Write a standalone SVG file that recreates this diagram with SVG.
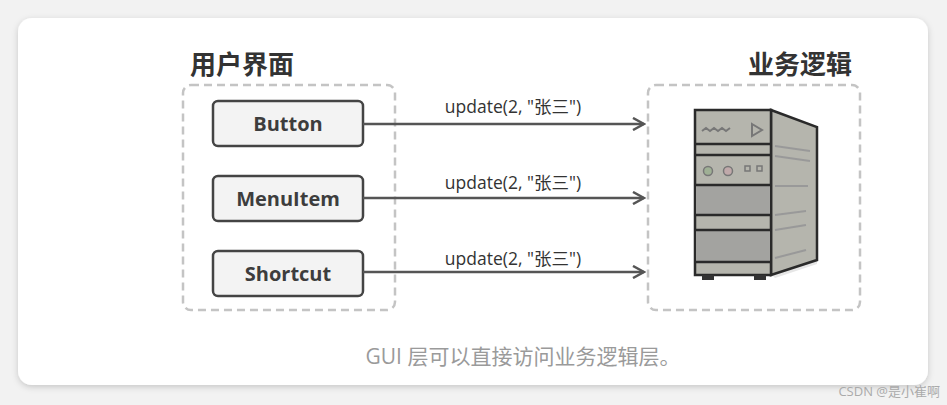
<svg xmlns="http://www.w3.org/2000/svg" width="947" height="405" viewBox="0 0 947 405">
<style>
.t{font-family:"Open Sans","Noto Sans","Noto Sans CJK SC",sans-serif}
.dash{fill:none;stroke:#c4c4c4;stroke-width:2.5;stroke-dasharray:8,5}
.btn{fill:#f3f3f3;stroke:#444;stroke-width:2.5}
.bl{font-size:20px;font-weight:bold;fill:#3d3d3d;text-anchor:middle}
.lbl{font-size:17.5px;fill:#333;text-anchor:middle}
.ln{stroke:#555;stroke-width:2.5;fill:none}
.k{stroke:#2a2a2a;stroke-width:2.5}
</style>
<defs>
<filter id="sh" x="-5%" y="-5%" width="110%" height="115%"><feDropShadow dx="0" dy="2" stdDeviation="3" flood-color="#000" flood-opacity="0.18"/></filter>
<marker id="ar" markerWidth="14" markerHeight="14" refX="12" refY="7" orient="auto" markerUnits="userSpaceOnUse"><path d="M1,1 L12,7 L1,13" fill="none" stroke="#555" stroke-width="2.5"/></marker>
</defs>
<rect width="947" height="405" fill="#f2f2f2"/>
<rect x="18" y="18" width="910" height="367" rx="14" fill="#fff" filter="url(#sh)"/>
<g id="gui">
<text class="t" x="190" y="74" font-size="26" font-weight="600" fill="#333">用户界面</text>
<rect class="dash" x="183" y="85" width="212" height="225" rx="8"/>
</g>
<g id="button"><rect class="btn" x="213" y="101" width="150" height="45" rx="5"/><text class="t bl" x="288" y="131">Button</text></g>
<g id="menuitem"><rect class="btn" x="213" y="176" width="150" height="45" rx="5"/><text class="t bl" x="288" y="206">MenuItem</text></g>
<g id="shortcut"><rect class="btn" x="213" y="251" width="150" height="45" rx="5"/><text class="t bl" x="288" y="281">Shortcut</text></g>
<g id="connectors">
<line class="ln" x1="363" y1="124" x2="644" y2="124" marker-end="url(#ar)"/>
<line class="ln" x1="363" y1="198" x2="644" y2="198" marker-end="url(#ar)"/>
<line class="ln" x1="363" y1="272" x2="644" y2="272" marker-end="url(#ar)"/>
<text class="t lbl" x="513" y="113">update(2, "张三")</text>
<text class="t lbl" x="513" y="189">update(2, "张三")</text>
<text class="t lbl" x="513" y="265">update(2, "张三")</text>
</g>
<g id="logic">
<text class="t" x="852" y="74" font-size="26" font-weight="600" fill="#333" text-anchor="end">业务逻辑</text>
<rect class="dash" x="648" y="85" width="212" height="225" rx="8"/>
<polygon points="771,274 817,260 817,264 775,278" fill="#e6e6e6"/>
<polygon class="k" points="771,110 817,127 817,260 771,275" fill="#b5b5ad"/>
<line x1="775" y1="146" x2="810" y2="151" stroke="#999" stroke-width="2"/>
<line x1="775" y1="156" x2="810" y2="161" stroke="#999" stroke-width="2"/>
<line x1="775" y1="186" x2="808" y2="186" stroke="#999" stroke-width="2"/>
<line x1="775" y1="215" x2="806" y2="211" stroke="#999" stroke-width="2"/>
<line x1="775" y1="230" x2="806" y2="225" stroke="#999" stroke-width="2"/>
<line x1="775" y1="258" x2="806" y2="250" stroke="#999" stroke-width="2"/>
<rect class="k" x="695" y="110" width="76" height="165" fill="#b5b5ad"/>
<rect x="696" y="186" width="74" height="29" fill="#a3a3a0"/>
<rect x="696" y="231" width="74" height="31" fill="#a3a3a0"/>
<g class="k" fill="none">
<line x1="695" y1="144" x2="771" y2="144"/><line x1="695" y1="155" x2="771" y2="155"/>
<line x1="695" y1="185" x2="771" y2="185"/><line x1="695" y1="215" x2="771" y2="215"/>
<line x1="695" y1="230" x2="771" y2="230"/><line x1="695" y1="262" x2="771" y2="262"/>
</g>
<path d="M702,131 l4,-3 l4,3 l4,-3 l4,3 l4,-3 l4,3 l4,-3" fill="none" stroke="#777" stroke-width="2"/>
<polygon points="752,124 762,130 752,136" fill="none" stroke="#777" stroke-width="2"/>
<circle cx="708" cy="171" r="4.5" fill="#9fb095" stroke="#777" stroke-width="1.5"/>
<circle cx="728" cy="171" r="4.5" fill="#c0a9aa" stroke="#777" stroke-width="1.5"/>
<rect x="745" y="166" width="5" height="5" fill="none" stroke="#777" stroke-width="1.5"/>
<rect x="757" y="166" width="5" height="5" fill="none" stroke="#777" stroke-width="1.5"/>
<rect x="702" y="275" width="12" height="5" fill="#333"/>
<rect x="754" y="275" width="12" height="5" fill="#333"/>
</g>
<text class="t" x="523" y="364" font-size="21" fill="#9a9a9a" text-anchor="middle">GUI 层可以直接访问业务逻辑层。</text>
<text class="t" x="940" y="396" font-size="13" fill="#aaa" text-anchor="end">CSDN @是小崔啊</text>
</svg>
